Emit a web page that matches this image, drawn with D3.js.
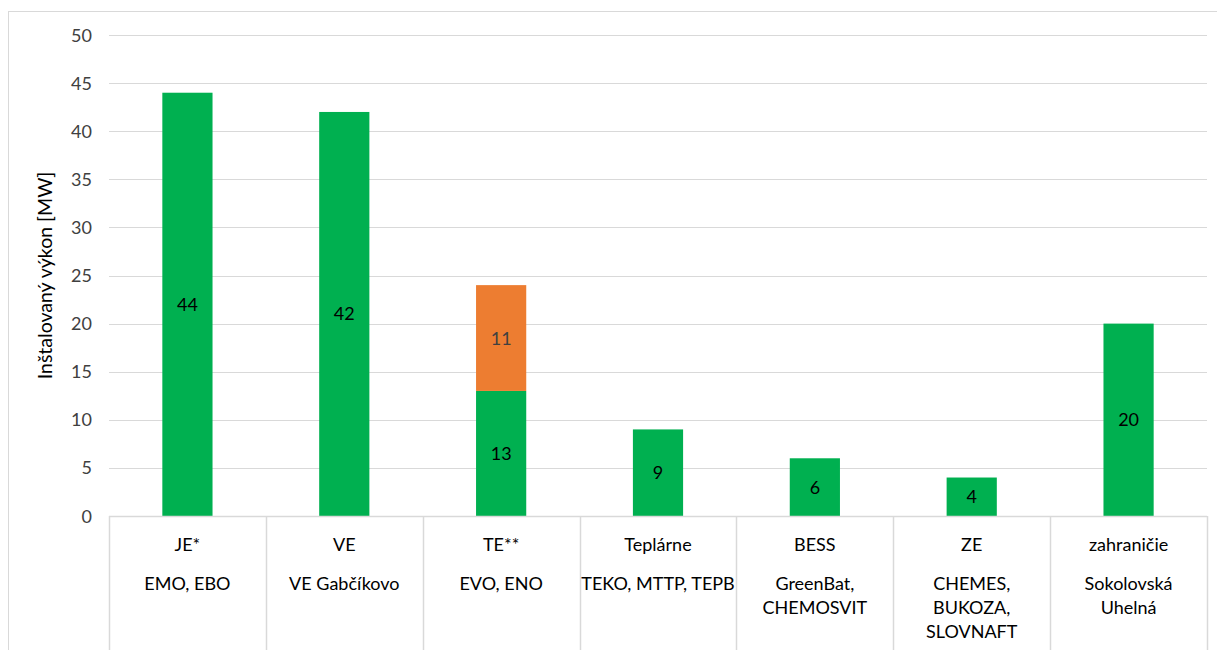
<!DOCTYPE html>
<html>
<head>
<meta charset="utf-8">
<script src="https://cdn.jsdelivr.net/npm/d3@7"></script>
<style>
  body { margin: 0; background: #fff; }
  svg { display: block; font-family: Lato, "Open Sans", sans-serif; }
</style>
</head>
<body>
<div id="chart"></div>
<script>
// category table: name + plants (sub lines)
const categories = ['JE*', 'VE', 'TE**', 'Teplárne', 'BESS', 'ZE', 'zahraničie'];
const subLabels = [
  ['EMO, EBO'],
  ['VE Gabčíkovo'],
  ['EVO, ENO'],
  ['TEKO, MTTP, TEPB'],
  ['GreenBat,', 'CHEMOSVIT'],
  ['CHEMES,', 'BUKOZA,', 'SLOVNAFT'],
  ['Sokolovská', 'Uhelná']
];
const greenValues = [44, 42, 13, 9, 6, 4, 20];
const orangeValues = [0, 0, 11, 0, 0, 0, 0];
const yTicks = [0, 5, 10, 15, 20, 25, 30, 35, 40, 45, 50];
const yTitle = 'Inštalovaný výkon [MW]';

const W = 1217, H = 650;
const margin = { top: 35, right: 10, bottom: 134, left: 109 };
const plotW = 1207 - margin.left;
const plotH = 516 - margin.top;

const svg = d3.select('#chart').append('svg')
  .attr('width', W).attr('height', H);

// outer chart border
svg.append('rect')
  .attr('x', 8.5).attr('y', 11.5)
  .attr('width', W + 10).attr('height', H)
  .attr('fill', 'none').attr('stroke', '#d9d9d9');

const g = svg.append('g').attr('transform', `translate(${margin.left},${margin.top})`);

const x = d3.scaleBand().domain(categories).range([0, plotW]).padding(0);
const y = d3.scaleLinear().domain([0, 50]).range([plotH, 0]);
const barW = x.bandwidth() * 0.32;

// gridlines
g.selectAll('.grid')
  .data(yTicks.filter(d => d > 0))
  .enter().append('line')
  .attr('x1', 0).attr('x2', plotW)
  .attr('y1', d => Math.round(y(d)) + 0.5).attr('y2', d => Math.round(y(d)) + 0.5)
  .attr('stroke', '#d9d9d9').attr('stroke-width', 1.2);

// y tick labels
g.selectAll('.ytick')
  .data(yTicks)
  .enter().append('text')
  .attr('x', -17)
  .attr('y', d => y(d) + 6.5)
  .attr('text-anchor', 'end')
  .style('font-size', '18px')
  .style('fill', '#404040')
  .text(d => d);

// y title
svg.append('text')
  .attr('transform', `translate(52,${margin.top + plotH / 2}) rotate(-90)`)
  .attr('text-anchor', 'middle')
  .style('font-size', '19.5px')
  .style('fill', '#000')
  .text(yTitle);

// bars
const cx = d => x(d) + x.bandwidth() / 2;

g.selectAll('.bar-green')
  .data(categories)
  .enter().append('rect')
  .attr('x', d => cx(d) - barW / 2)
  .attr('y', (d, i) => y(greenValues[i]))
  .attr('width', barW)
  .attr('height', (d, i) => y(0) - y(greenValues[i]))
  .attr('fill', '#00b050');

g.selectAll('.bar-orange')
  .data(categories.filter((d, i) => orangeValues[i] > 0))
  .enter().append('rect')
  .attr('x', d => cx(d) - barW / 2)
  .attr('y', d => {
    const i = categories.indexOf(d);
    return y(greenValues[i] + orangeValues[i]);
  })
  .attr('width', barW)
  .attr('height', d => {
    const i = categories.indexOf(d);
    return y(greenValues[i]) - y(greenValues[i] + orangeValues[i]);
  })
  .attr('fill', '#ed7d31');

// value labels
g.selectAll('.lbl-green')
  .data(categories)
  .enter().append('text')
  .attr('x', d => cx(d))
  .attr('y', (d, i) => y(greenValues[i] / 2) + 6.5)
  .attr('text-anchor', 'middle')
  .style('font-size', '18px')
  .style('fill', '#000')
  .text((d, i) => greenValues[i]);

g.selectAll('.lbl-orange')
  .data(categories.filter((d, i) => orangeValues[i] > 0))
  .enter().append('text')
  .attr('x', d => cx(d))
  .attr('y', d => {
    const i = categories.indexOf(d);
    return y(greenValues[i] + orangeValues[i] / 2) + 6.5;
  })
  .attr('text-anchor', 'middle')
  .style('font-size', '18px')
  .style('fill', '#404040')
  .text(d => orangeValues[categories.indexOf(d)]);

// category table
g.append('line')
  .attr('x1', 0).attr('x2', plotW)
  .attr('y1', plotH + 0.5).attr('y2', plotH + 0.5)
  .attr('stroke', '#d9d9d9').attr('stroke-width', 1.5);

const edges = categories.map(d => x(d)).concat([plotW]);
g.selectAll('.sep')
  .data(edges)
  .enter().append('line')
  .attr('x1', d => Math.round(d) + 0.5).attr('x2', d => Math.round(d) + 0.5)
  .attr('y1', plotH).attr('y2', H)
  .attr('stroke', '#d9d9d9').attr('stroke-width', 1.5);

g.selectAll('.cat')
  .data(categories)
  .enter().append('text')
  .attr('x', d => cx(d))
  .attr('y', plotH + 35)
  .attr('text-anchor', 'middle')
  .style('font-size', '18px')
  .style('fill', '#000')
  .text(d => d);

categories.forEach((c, i) => {
  g.selectAll(null)
    .data(subLabels[i])
    .enter().append('text')
    .attr('x', cx(c))
    .attr('y', (d, j) => plotH + 74 + j * 24)
    .attr('text-anchor', 'middle')
    .style('font-size', '18px')
    .style('fill', '#000')
    .text(d => d);
});
</script>
</body>
</html>
